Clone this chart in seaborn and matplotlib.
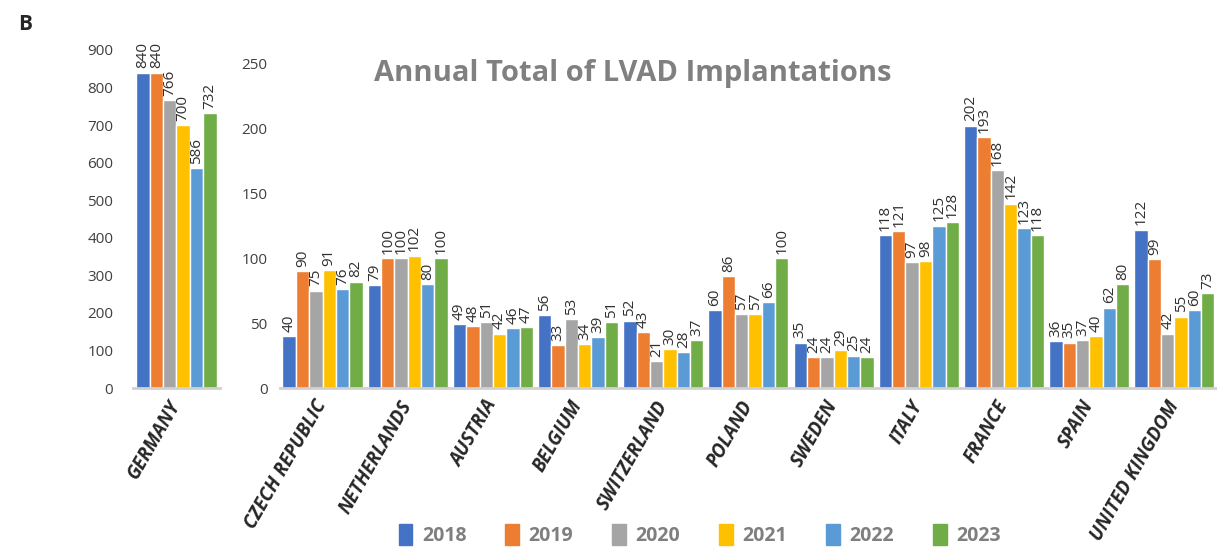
import pandas as pd
import matplotlib.pyplot as plt
import matplotlib.patches as mpatches
import seaborn as sns

# Data
years = ['2018', '2019', '2020', '2021', '2022', '2023']
germany = [840, 840, 766, 700, 586, 732]
countries = ['CZECH REPUBLIC', 'NETHERLANDS', 'AUSTRIA', 'BELGIUM', 'SWITZERLAND',
             'POLAND', 'SWEDEN', 'ITALY', 'FRANCE', 'SPAIN', 'UNITED KINGDOM']
v2018 = [40, 79, 49, 56, 52, 60, 35, 118, 202, 36, 122]
v2019 = [90, 100, 48, 33, 43, 86, 24, 121, 193, 35, 99]
v2020 = [75, 100, 51, 53, 21, 57, 24, 97, 168, 37, 42]
v2021 = [91, 102, 42, 34, 30, 57, 29, 98, 142, 40, 55]
v2022 = [76, 80, 46, 39, 28, 66, 25, 125, 123, 62, 60]
v2023 = [82, 100, 47, 51, 37, 100, 24, 128, 118, 80, 73]
colors = ['#4472C4', '#ED7D31', '#A5A5A5', '#FFC000', '#5B9BD5', '#70AD47']

sns.set_style('white')
plt.rcParams['font.family'] = ['Open Sans', 'DejaVu Sans']

df_de = pd.DataFrame({'country': ['GERMANY'] * 6, 'year': years, 'value': germany})
rows = []
for y, vals in zip(years, [v2018, v2019, v2020, v2021, v2022, v2023]):
    for c, v in zip(countries, vals):
        rows.append({'country': c, 'year': y, 'value': v})
df = pd.DataFrame(rows)

fig = plt.figure(figsize=(12.17, 5.49), dpi=100)
ax1 = fig.add_axes([0.109, 0.293, 0.072, 0.616])
ax2 = fig.add_axes([0.230, 0.293, 0.770, 0.592])

palette = dict(zip(years, colors))
sns.barplot(data=df_de, x='country', y='value', hue='year', palette=palette,
            width=0.92, ax=ax1, legend=False, saturation=1)
sns.barplot(data=df, x='country', y='value', hue='year', palette=palette,
            width=0.94, ax=ax2, legend=False, saturation=1)

for ax, top, step, ypad in [(ax1, 900, 100, 14), (ax2, 250, 50, 9)]:
    ax.set_ylim(0, top)
    ax.set_yticks(range(0, top + 1, step))
    ax.tick_params(axis='y', labelsize=11, labelcolor='#404040', length=0, pad=ypad)
    ax.tick_params(axis='x', length=0, pad=10)
    ax.set_xlabel('')
    ax.set_ylabel('')
    for s in ['top', 'right', 'left']:
        ax.spines[s].set_visible(False)
    ax.spines['bottom'].set_color('#D0D0D0')
    ax.spines['bottom'].set_linewidth(2)
    for cont in ax.containers:
        ax.bar_label(cont, rotation=90, padding=3, fontsize=11, color='#303030')
    for lab in ax.get_xticklabels():
        lab.set_rotation(60)
        lab.set_rotation_mode('anchor')
        lab.set_ha('right')
        lab.set_va('center')
        lab.set_fontweight('bold')
        lab.set_fontstyle('italic')
        lab.set_fontsize(13.5)
ax2.set_xlim(-0.5, len(countries) - 0.5)

fig.text(0.015, 0.955, 'B', fontsize=15, fontweight='bold', ha='left', va='center')
fig.text(0.52, 0.866, 'Annual Total of LVAD Implantations', fontsize=21,
         fontweight='bold', color='#808080', ha='center', va='center')

handles = [mpatches.Patch(color=c, label=y) for c, y in zip(colors, years)]
leg = fig.legend(handles=handles, loc='center', bbox_to_anchor=(0.575, 0.025),
                 ncol=6, frameon=False, handlelength=0.7, handleheight=1.3,
                 columnspacing=2.0, handletextpad=0.5,
                 prop={'weight': 'bold', 'size': 14})
for t in leg.get_texts():
    t.set_color('#7F7F7F')

fig.savefig('out.png', dpi=100)
